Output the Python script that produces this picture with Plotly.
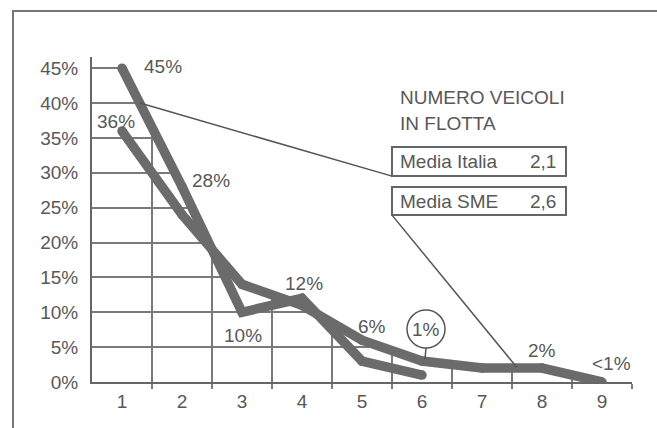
import numpy as np
import plotly.graph_objects as go

# ---- data ----
cats = [1, 2, 3, 4, 5, 6, 7, 8, 9]
tick_text = ["1", "2", "3", "4", "5", "6", "7", "8", "9"]
italia = [0.45, 0.28, 0.10, 0.12, 0.03, 0.01]          # categories 1..6
sme = [0.36, 0.24, 0.14, 0.11, 0.06, 0.03, 0.02, 0.02, 0.0]  # categories 1..9
y_ticks = [0, 0.05, 0.10, 0.15, 0.20, 0.25, 0.30, 0.35, 0.40, 0.45]
y_tick_text = ["0%", "5%", "10%", "15%", "20%", "25%", "30%", "35%", "40%", "45%"]
title_lines = ["NUMERO VEICOLI", "IN FLOTTA"]
box_labels = ["Media Italia", "Media SME"]
box_values = ["2,1", "2,6"]
# point labels: (series, category index, text)
point_labels = [
    ("italia", 0, "45%"), ("sme", 0, "36%"), ("italia", 1, "28%"),
    ("italia", 2, "10%"), ("italia", 3, "12%"), ("sme", 4, "6%"),
    ("sme", 7, "2%"), ("sme", 8, "<1%"),
]
circled_label = ("italia", 5, "1%")

LINE = "#6b6b6b"
TXT = "#585858"
GRID = "#7a7a7a"
FONT = "Liberation Sans"
FS = 19

xa = cats[:len(italia)]
xb = cats[:len(sme)]
series = {"italia": (xa, italia), "sme": (xb, sme)}

fig = go.Figure()

# white mask above the upper envelope so the grid shows only under the curves
xs = np.linspace(cats[0], cats[-1], 1601)
ea = np.where(xs <= xa[-1], np.interp(xs, xa, italia), -1)
eb = np.interp(xs, xb, sme)
env = np.maximum(ea, eb) + 0.004
mx = np.concatenate([[0.3, cats[0]], xs, [cats[-1] + 0.001, 9.8, 9.8, 0.3]])
my = np.concatenate([[italia[0] + 0.004, italia[0] + 0.004], env, [0.004, 0.004, 0.6, 0.6]])
fig.add_trace(go.Scatter(x=mx, y=my, fill="toself", fillcolor="white",
                         line=dict(width=0), mode="lines", hoverinfo="skip",
                         showlegend=False))

for name, (xx, yy) in series.items():
    fig.add_trace(go.Scatter(x=xx, y=yy, mode="lines+markers", name=name,
                             line=dict(color=LINE, width=9.5),
                             marker=dict(color=LINE, size=9.5, line=dict(width=0)),
                             showlegend=False))

annotations = []
offsets = {  # label offsets in px
    "45%": (41, 2), "36%": (-6, 9), "28%": (29, 6), "10%": (1, -23),
    "12%": (2, 15), "6%": (10, 14), "2%": (0, 18), "<1%": (9, 19),
}
for s, i, t in point_labels:
    xx, yy = series[s]
    dx, dy = offsets[t]
    annotations.append(dict(x=xx[i], y=yy[i], text=t, showarrow=False,
                            xshift=dx, yshift=dy,
                            font=dict(family=FONT, size=FS, color=TXT)))

# circled label
s, i, t = circled_label
cx, cy = series[s][0][i], series[s][1][i]
annotations.append(dict(x=cx, y=cy, text=t, showarrow=False, xshift=4, yshift=46,
                        font=dict(family=FONT, size=FS, color=TXT)))

# title
annotations.append(dict(x=5.6, y=0.408, text=title_lines[0], showarrow=False,
                        xanchor="left", font=dict(family=FONT, size=FS, color=TXT)))
annotations.append(dict(x=5.6, y=0.370, text=title_lines[1], showarrow=False,
                        xanchor="left", font=dict(family=FONT, size=FS, color=TXT)))

# boxes
box_y = [(0.2952, 0.3368), (0.2393, 0.2795)]
shapes = []
for (y0, y1), lab, val in zip(box_y, box_labels, box_values):
    shapes.append(dict(type="rect", x0=5.5, x1=8.4, y0=y0, y1=y1,
                       line=dict(color="#666", width=2), fillcolor="white", layer="above"))
    annotations.append(dict(x=5.6, y=(y0 + y1) / 2, text=lab, showarrow=False,
                            xanchor="left", font=dict(family=FONT, size=FS, color=TXT)))
    annotations.append(dict(x=8.27, y=(y0 + y1) / 2, text=val, showarrow=False,
                            xanchor="right", font=dict(family=FONT, size=FS, color=TXT)))

# callout lines
shapes.append(dict(type="line", x0=1.3, y0=0.40, x1=5.5, y1=box_y[0][0],
                   line=dict(color="#555", width=1.5)))
shapes.append(dict(type="line", x0=7.58, y0=0.021, x1=5.5, y1=box_y[1][0],
                   line=dict(color="#555", width=1.5)))
# circle for 1%
shapes.append(dict(type="circle", xref="x", yref="y", xsizemode="pixel", ysizemode="pixel",
                   xanchor=cx, yanchor=cy, x0=-15, x1=23, y0=27, y1=65,
                   line=dict(color="#555", width=1.5)))
shapes.append(dict(type="line", xref="x", yref="y", xsizemode="pixel", ysizemode="pixel",
                   xanchor=cx, yanchor=cy, x0=4, x1=3, y0=27, y1=16,
                   line=dict(color="#555", width=1.5)))

# frame
shapes.append(dict(type="line", xref="paper", yref="paper", x0=-0.1481, x1=1.1,
                   y0=1.1415, y1=1.1415, line=dict(color="#777", width=2)))
shapes.append(dict(type="line", xref="paper", yref="paper", x0=-0.1463, x1=-0.1463,
                   y0=1.1415, y1=-0.2, line=dict(color="#777", width=2)))

fig.update_layout(
    width=657, height=428,
    margin=dict(l=92, r=25, t=57, b=46),
    paper_bgcolor="white", plot_bgcolor="white",
    font=dict(family=FONT, size=FS, color=TXT),
    annotations=annotations, shapes=shapes,
    xaxis=dict(range=[0.5, 9.5], tickvals=cats, ticktext=tick_text,
               showgrid=False, zeroline=False, showline=True, automargin=False,
               linecolor="#666", linewidth=2, ticks="", ticklabelstandoff=1,
               tickfont=dict(family=FONT, size=FS, color=TXT),
               minor=dict(tickvals=list(np.arange(1.5, 10, 1.0)), showgrid=True,
                          gridcolor=GRID, gridwidth=1.5, ticks="outside",
                          ticklen=5, tickcolor=GRID, tickwidth=1.5)),
    yaxis=dict(range=[0, 0.466], tickvals=y_ticks, ticktext=y_tick_text,
               showgrid=True, gridcolor=GRID, gridwidth=1.5, zeroline=False,
               showline=True, linecolor="#666", linewidth=2, ticks="",
               ticklabelstandoff=8, automargin=False,
               tickfont=dict(family=FONT, size=FS, color=TXT)),
)

fig.write_html("out.html")
